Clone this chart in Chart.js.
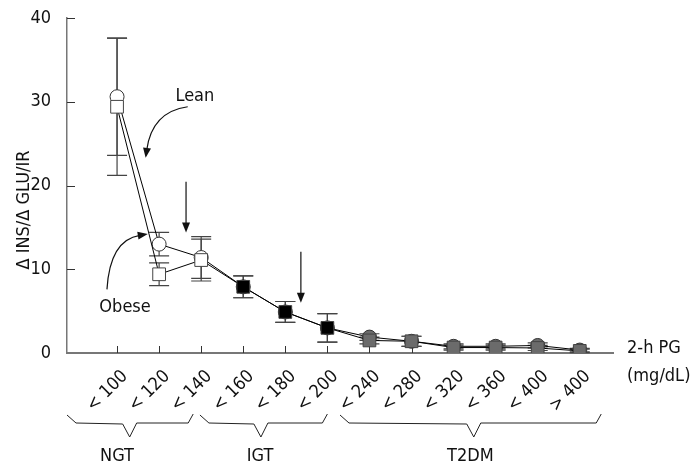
<!DOCTYPE html>
<html lang="en">
<head>
<meta charset="UTF-8">
<title>Insulin secretion vs 2-h PG</title>
<script src="https://cdn.jsdelivr.net/npm/chart.js"></script>
<style>
  html, body { margin: 0; padding: 0; background: #fff; }
</style>
</head>
<body>
<canvas id="pgChart" width="693" height="468"></canvas>
<script>
// 2-h plasma glucose classes (mg/dL)
const categories = ['< 100', '< 120', '< 140', '< 160', '< 180', '< 200',
                    '< 240', '< 280', '< 320', '< 360', '< 400', '> 400'];
const groups = ['NGT', 'NGT', 'NGT', 'IGT', 'IGT', 'IGT',
                'T2DM', 'T2DM', 'T2DM', 'T2DM', 'T2DM', 'T2DM'];
const groupNames = ['NGT', 'IGT', 'T2DM'];

// Δ INS/Δ GLU/IR, mean and SE
const leanValues  = [30.6, 13.0, 11.4, 7.9, 4.9, 3.0, 1.9, 1.4, 0.8, 0.8, 0.9, 0.35];
const leanErrors  = [7.0, 1.4, 2.5, 1.3, 1.25, 1.7, 0.4, 0.6, 0.3, 0.3, 0.3, 0.2];
const obeseValues = [29.4, 9.4, 11.1, 7.9, 4.9, 3.0, 1.5, 1.4, 0.65, 0.65, 0.6, 0.25];
const obeseErrors = [8.2, 1.35, 2.5, 1.3, 1.25, 1.7, 0.4, 0.6, 0.3, 0.3, 0.3, 0.2];

const yTicks = [0, 10, 20, 30, 40];

const FONT = '"DejaVu Sans Condensed", "DejaVu Sans", sans-serif';

function fillFor(g) {
    if (g === 'NGT') return '#ffffff';
    if (g === 'IGT') return '#000000';
    return '#6b6b6b';
}

const errors = { Lean: leanErrors, Obese: obeseErrors };

const errorBars = {
    id: 'errorBars',
    beforeDatasetsDraw(chart) {
        const { ctx, chartArea, scales: { x, y } } = chart;
        ctx.save();
        // inward tick marks
        ctx.strokeStyle = '#333';
        ctx.lineWidth = 1;
        x.ticks.forEach((t, k) => {
            const px = Math.round(x.getPixelForTick(k)) + 0.5;
            ctx.beginPath();
            ctx.moveTo(px, chartArea.bottom);
            ctx.lineTo(px, chartArea.bottom - 7);
            ctx.stroke();
        });
        y.ticks.forEach((t, k) => {
            if (t.value === 0) return;
            const py = Math.round(y.getPixelForTick(k)) + 0.5;
            ctx.beginPath();
            ctx.moveTo(chartArea.left, py);
            ctx.lineTo(chartArea.left + 8, py);
            ctx.stroke();
        });
        // error bars
        ctx.strokeStyle = '#444';
        ctx.lineWidth = 1.2;
        chart.data.datasets.forEach(ds => {
            const errs = errors[ds.label];
            ds.data.forEach((p, i) => {
                const px = x.getPixelForValue(p.x);
                const top = y.getPixelForValue(p.y + errs[i]);
                const bot = y.getPixelForValue(p.y - errs[i]);
                ctx.beginPath();
                ctx.moveTo(px, top); ctx.lineTo(px, bot);
                ctx.moveTo(px - 10, top); ctx.lineTo(px + 10, top);
                ctx.moveTo(px - 10, bot); ctx.lineTo(px + 10, bot);
                ctx.stroke();
            });
        });
        ctx.restore();
    }
};

function arrowHead(ctx, tx, ty, ang) {
    const len = 10, half = 4;
    ctx.beginPath();
    ctx.moveTo(tx, ty);
    ctx.lineTo(tx - len * Math.cos(ang) + half * Math.sin(ang), ty - len * Math.sin(ang) - half * Math.cos(ang));
    ctx.lineTo(tx - len * Math.cos(ang) - half * Math.sin(ang), ty - len * Math.sin(ang) + half * Math.cos(ang));
    ctx.closePath();
    ctx.fill();
}

const annotations = {
    id: 'annotations',
    afterDraw(chart) {
        const { ctx, chartArea, scales: { x, y } } = chart;
        const P = (i, v) => [x.getPixelForValue(i), y.getPixelForValue(v)];
        ctx.save();
        ctx.fillStyle = '#111';
        ctx.strokeStyle = '#111';
        ctx.lineWidth = 1.2;

        // y axis title
        ctx.save();
        ctx.translate(24, 210);
        ctx.rotate(-Math.PI / 2);
        ctx.font = '18px ' + FONT;
        ctx.textAlign = 'center';
        ctx.textBaseline = 'middle';
        ctx.fillText('\u0394 INS/\u0394 GLU/IR', 0, 0);
        ctx.restore();

        // x axis title at the right end
        ctx.font = '18px ' + FONT;
        ctx.textAlign = 'left';
        ctx.textBaseline = 'middle';
        ctx.fillText('2-h PG', chartArea.right + 14, chartArea.bottom - 5);
        ctx.fillText('(mg/dL)', chartArea.right + 14, chartArea.bottom + 23);

        // Lean / Obese labels with curved arrows
        ctx.textAlign = 'center';
        let p = P(1.85, 30.6);
        ctx.fillText('Lean', p[0], p[1]);
        p = P(0.19, 5.4);
        ctx.fillText('Obese', p[0], p[1]);

        function curved(s, c, t) {
            const a = P(s[0], s[1]), b = P(c[0], c[1]), e = P(t[0], t[1]);
            const ang = Math.atan2(e[1] - b[1], e[0] - b[0]);
            const ex = e[0] - 8 * Math.cos(ang), ey = e[1] - 8 * Math.sin(ang);
            ctx.beginPath();
            ctx.moveTo(a[0], a[1]);
            ctx.quadraticCurveTo(b[0], b[1], ex, ey);
            ctx.stroke();
            arrowHead(ctx, e[0], e[1], ang);
        }
        curved([1.68, 29.4], [0.83, 28.8], [0.68, 23.3]);
        curved([-0.24, 7.6], [-0.17, 13.5], [0.73, 14.2]);

        // vertical arrows marking class boundaries
        [[1.64, 20.45, 14.4], [4.37, 12.1, 6.0]].forEach(a => {
            const top = P(a[0], a[1]), tip = P(a[0], a[2]);
            ctx.beginPath();
            ctx.moveTo(top[0], top[1]);
            ctx.lineTo(tip[0], tip[1] - 8);
            ctx.stroke();
            arrowHead(ctx, tip[0], tip[1], Math.PI / 2);
        });

        // braces under the class labels
        const braces = [[-1.19, 0.30, 1.81], [1.97, 3.42, 5.0], [5.30, 8.48, 11.51]];
        const base = chartArea.bottom;
        ctx.strokeStyle = '#222';
        ctx.lineWidth = 1;
        braces.forEach(b => {
            const l = x.getPixelForValue(b[0]), m = x.getPixelForValue(b[1]), r = x.getPixelForValue(b[2]);
            ctx.beginPath();
            ctx.moveTo(l, base + 62);
            ctx.lineTo(l + 9, base + 70);
            ctx.lineTo(m - 7, base + 71);
            ctx.lineTo(m, base + 84);
            ctx.lineTo(m + 7, base + 70);
            ctx.lineTo(r - 5, base + 70);
            ctx.lineTo(r, base + 61);
            ctx.stroke();
        });
        ctx.font = '18px ' + FONT;
        ctx.textAlign = 'center';
        ctx.textBaseline = 'middle';
        [0.0, 3.4, 8.4].forEach((pos, k) => {
            ctx.fillText(groupNames[k], x.getPixelForValue(pos), base + 103);
        });
        ctx.restore();
    }
};

const pts = vals => vals.map((v, i) => ({ x: i, y: v }));

new Chart(document.getElementById('pgChart'), {
    type: 'line',
    data: {
        datasets: [{
            label: 'Lean',
            data: pts(leanValues),
            borderColor: '#000',
            borderWidth: 1,
            pointStyle: 'circle',
            pointRadius: 7,
            pointBorderWidth: 1,
            pointBorderColor: '#333',
            pointBackgroundColor: groups.map(fillFor),
            order: 2
        }, {
            label: 'Obese',
            data: pts(obeseValues),
            borderColor: '#000',
            borderWidth: 1,
            pointStyle: 'rect',
            pointRadius: 9,
            pointBorderWidth: 1,
            pointBorderColor: '#444',
            pointBackgroundColor: groups.map(fillFor),
            order: 1
        }]
    },
    options: {
        responsive: false,
        animation: false,
        devicePixelRatio: 1,
        layout: { padding: { top: 18, right: 80, left: 0, bottom: 0 } },
        plugins: { legend: { display: false }, tooltip: { enabled: false } },
        scales: {
            x: {
                type: 'linear',
                min: -1.19,
                max: 11.79,
                afterBuildTicks: s => { s.ticks = categories.map((c, i) => ({ value: i })); },
                afterFit: s => { s.height = 115; s.paddingLeft = 0; s.paddingRight = 0; },
                grid: { display: false },
                border: { display: true, color: '#777', width: 2 },
                ticks: {
                    callback: (v, i) => categories[i],
                    autoSkip: false,
                    minRotation: 45,
                    maxRotation: 45,
                    padding: 5,
                    labelOffset: 8,
                    color: '#111',
                    font: { family: FONT, size: 18 }
                }
            },
            y: {
                min: 0,
                max: 40,
                afterBuildTicks: s => { s.ticks = yTicks.map(v => ({ value: v })); },
                afterFit: s => { s.width = 67; s.paddingTop = 0; s.paddingBottom = 0; },
                grid: { display: false },
                border: { display: true, color: '#777', width: 1.5 },
                ticks: {
                    padding: 8,
                    color: '#111',
                    font: { family: FONT, size: 18 }
                }
            }
        }
    },
    plugins: [errorBars, annotations]
});
</script>
</body>
</html>
